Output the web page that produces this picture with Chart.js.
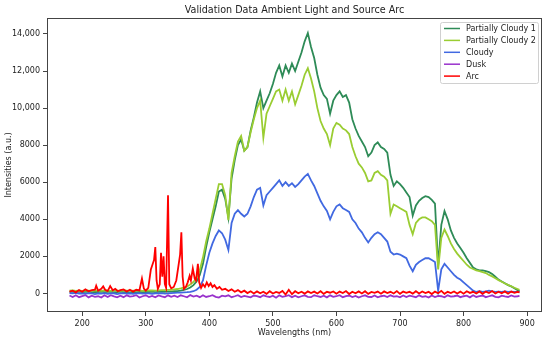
<!DOCTYPE html>
<html>
<head>
<meta charset="utf-8">
<script src="https://cdn.jsdelivr.net/npm/chart.js@4.4.1/dist/chart.umd.min.js"></script>
<style>
  body { margin: 0; background: #fff; }
  .container { width: 550px; height: 341px; position: relative; }
</style>
</head>
<body>
<div class="container"><canvas id="myChart"></canvas></div>
<script>
const chartTitle = 'Validation Data Ambient Light and Source Arc';
const seriesLabels = ['Partially Cloudy 1', 'Partially Cloudy 2', 'Cloudy', 'Dusk', 'Arc'];
const seriesColors = ['#2e8b57', '#9acd32', '#4169e1', '#9932cc', '#ff0000'];

const xTicks = [200, 300, 400, 500, 600, 700, 800, 900];
const yTicks = [0, 2000, 4000, 6000, 8000, 10000, 12000, 14000];

// ambient spectra share one wavelength grid (nm)
const wavelengths = [
  180, 185, 190, 195, 200, 205, 210, 215, 220, 225, 230, 235, 240, 245, 250, 255, 260, 265, 270, 275,
  280, 285, 290, 295, 300, 305, 310, 315, 320, 325, 330, 335, 340, 345, 350, 355, 360, 365, 370, 375,
  380, 385, 390, 395, 400, 405, 410, 415, 420, 425, 430, 435, 440, 445, 450, 455, 460, 465, 470, 475,
  480, 485, 490, 495, 500, 505, 510, 515, 520, 525, 530, 535, 540, 545, 550, 555, 560, 565, 570, 575,
  580, 585, 590, 595, 600, 605, 610, 615, 620, 625, 630, 635, 640, 645, 650, 655, 660, 665, 670, 675,
  680, 685, 690, 695, 700, 705, 710, 715, 720, 725, 730, 735, 740, 745, 750, 755, 760, 765, 770, 775,
  780, 785, 790, 795, 800, 805, 810, 815, 820, 825, 830, 835, 840, 845, 850, 855, 860, 865, 870, 875,
  880, 885, 888
];

const partlyCloudy1 = [
  90, 100, 80, 95, 70, 85, 100, 75, 90, 80, 95, 70, 85, 90, 75, 80, 95, 70, 85, 60,
  80, 75, 90, 70, 85, 80, 95, 75, 90, 100, 85, 110, 95, 120, 130, 150, 190, 240, 320, 450,
  650, 1000, 1600, 2500, 3300, 4000, 4700, 5500, 5600, 5100, 4100, 6200, 7200, 8000, 8300, 7700, 7900, 8800, 9500, 10300,
  10900, 10000, 10400, 10800, 11300, 11900, 12300, 11700, 12300, 11900, 12400, 12000, 12500, 13000, 13600, 14050, 13300, 12700, 11800, 11100,
  10700, 10500, 9700, 10400, 10700, 10900, 10600, 10700, 10300, 9400, 8900, 8500, 8200, 7900, 7400, 7600, 8000, 8150, 7900, 7800,
  7600, 6400, 5800, 6050, 5900, 5700, 5450, 5200, 4200, 4750, 5000, 5150, 5250, 5200, 5050, 4850, 1500, 3700, 4450, 4000,
  3400, 3000, 2700, 2450, 2200, 1900, 1650, 1400, 1300, 1250, 1250, 1200, 1150, 1050, 900, 750, 650, 550, 450, 380,
  280, 180, 130
];

const partlyCloudy2 = [
  150, 160, 140, 155, 145, 160, 150, 140, 165, 150, 145, 160, 150, 140, 155, 150, 145, 160, 150, 140,
  155, 150, 160, 145, 150, 160, 170, 155, 165, 175, 180, 190, 200, 220, 240, 270, 310, 380, 480, 620,
  850, 1250, 1950, 2800, 3500, 4300, 5100, 5900, 5900, 5300, 3950, 6500, 7400, 8200, 8500, 7700, 7900, 8700, 9400, 10000,
  10400, 8400, 9700, 10100, 10500, 10900, 11000, 10400, 11000, 10400, 10900, 10200, 10700, 11200, 11800, 12150, 11600, 10900, 10000, 9300,
  8900, 8600, 8000, 8900, 9200, 9100, 8900, 8800, 8600, 7900, 7400, 7000, 6800, 6500, 6050, 6100, 6500, 6600, 6400, 6300,
  6100, 4300, 4800, 4700, 4600, 4500, 4400, 3700, 3200, 3800, 4000, 4100, 4100, 4000, 3900, 3700, 1300, 3000, 3450, 3100,
  2700, 2400, 2150, 1950, 1750, 1550, 1400, 1320, 1250, 1200, 1150, 1100, 1000, 920, 820, 720, 630, 540, 460, 390,
  310, 240, 200
];

const cloudy = [
  20, 0, 30, -10, 10, -20, 20, 0, -30, 10, -10, 20, -20, 0, 10, -30, 0, 20, -10, 10,
  -20, 0, 20, -10, 0, 10, -20, 10, 0, 20, -10, 10, 20, 30, 40, 50, 60, 70, 90, 120,
  200, 350, 700, 1500, 2200, 2700, 3100, 3400, 3250, 2900, 2350, 3800, 4300, 4500, 4300, 4150, 4300, 4700, 5200, 5600,
  5700, 4750, 5300, 5500, 5700, 5900, 6100, 5800, 6000, 5800, 5950, 5750, 5900, 6100, 6300, 6450, 6100, 5800, 5400, 5000,
  4700, 4450, 4000, 4400, 4700, 4800, 4600, 4500, 4400, 4000, 3800, 3500, 3300, 3000, 2750, 3000, 3200, 3300, 3200, 3000,
  2800, 2250, 2100, 2150, 2100, 2000, 1900, 1500, 1200, 1550, 1700, 1800, 1900, 1900, 1800, 1700, 150, 1300, 1600, 1400,
  1200, 1000, 850, 750, 600, 450, 300, 150, 80, 120, 90, 110, 150, 110, 90, 100, 80, 110, 90, 100,
  80, 90, 80
];

const dusk = [
  -110, -190, -100, -200, -140, -90, -210, -120, -180, -150, -220, -100, -190, -90, -160, -210, -120, -200, -100, -170,
  -140, -90, -220, -150, -100, -190, -130, -210, -110, -160, -200, -100, -180, -120, -190, -100, -150, -210, -90, -170,
  -120, -200, -100, -190, -150, -90, -180, -220, -120, -160, -100, -200, -150, -90, -190, -130, -170, -210, -110, -150,
  -200, -100, -160, -190, -120, -230, -100, -180, -150, -90, -200, -120, -210, -150, -100, -180, -200, -100, -150, -190,
  -120, -210, -100, -180, -150, -90, -200, -150, -110, -190, -130, -220, -150, -100, -180, -190, -110, -210, -150, -120,
  -190, -100, -170, -150, -210, -110, -190, -120, -160, -200, -100, -180, -150, -220, -110, -190, -130, -150, -210, -100,
  -170, -150, -110, -200, -150, -120, -210, -100, -190, -150, -110, -200, -150, -100, -180, -210, -120, -160, -190, -110,
  -170, -150, -130
];

// arc lamp has its own, finer grid around the emission lines
const arcWavelengths = [
  180, 185, 190, 195, 200, 205, 210, 215, 220, 222, 225, 230, 233, 236, 240, 244, 248, 252, 256, 260,
  265, 270, 275, 280, 285, 290, 294, 297, 300, 304, 308, 311, 313, 315, 317, 319, 322, 324, 326, 328,
  330, 332, 335, 337, 340, 344, 348, 351, 354, 356, 358, 360, 363, 366, 369, 371, 374, 377, 379, 382,
  384, 387, 390, 393, 396, 399, 402, 405, 408, 412, 416, 420, 425, 430, 435, 440, 445, 450, 455, 460,
  465, 470, 475, 480, 485, 490, 495, 500, 505, 510, 515, 520, 525, 530, 535, 540, 545, 550, 555, 560,
  565, 570, 575, 580, 585, 590, 595, 600, 605, 610, 615, 620, 625, 630, 635, 640, 645, 650, 655, 660,
  665, 670, 675, 680, 685, 690, 695, 700, 705, 710, 715, 720, 725, 730, 735, 740, 745, 750, 755, 760,
  765, 770, 775, 780, 785, 790, 795, 800, 805, 810, 815, 820, 825, 830, 835, 840, 845, 850, 855, 860,
  865, 870, 875, 880, 885, 888
];

const arc = [
  100, 150, 60, 180, 90, 220, 120, 180, 200, 420, 150, 250, 380, 200, 130, 400, 170, 250, 120, 180,
  220, 110, 200, 100, 200, 160, 800, 260, 150, 300, 1300, 1600, 1800, 2500, 700, 250, 500, 2200, 900, 2000,
  500, 300, 5300, 500, 280, 350, 700, 1400, 2100, 3300, 900, 250, 350, 600, 950, 700, 1350, 800, 700, 1600,
  600, 300, 500, 350, 600, 400, 550, 350, 450, 250, 350, 200, 250, 130, 220, 90, 180, 60, 150, 20,
  120, 0, 110, 10, 90, -20, 120, 0, 80, 30, 140, -60, 200, -40, 120, 10, 90, -10, 110, 20,
  100, 0, 120, -20, 90, 40, 110, -10, 100, 20, 130, -30, 90, 10, 110, 0, 120, -20, 80, 30,
  100, -10, 110, 20, 90, 0, 130, -20, 100, 30, 90, -10, 120, 0, 110, 20, 90, -30, 100, 10,
  140, -20, 90, 20, 110, 0, 100, -10, 120, 30, 90, 0, 110, -20, 100, 20, 130, 0, 90, 10,
  110, -10, 100, 30, 90, 60
];

function toPoints(xs, ys) {
  return xs.map((x, i) => ({ x, y: ys[i] }));
}

const seriesPoints = [
  toPoints(wavelengths, partlyCloudy1),
  toPoints(wavelengths, partlyCloudy2),
  toPoints(wavelengths, cloudy),
  toPoints(wavelengths, dusk),
  toPoints(arcWavelengths, arc),
];
const seriesWidths = [1.8, 1.8, 1.8, 1.8, 1.8];

const FONT = "'DejaVu Sans', sans-serif";
Chart.defaults.font.family = FONT;
Chart.defaults.color = '#222';

// title, frame and an inside legend, matplotlib style
const decorations = {
  id: 'decorations',
  afterDraw(chart) {
    const { ctx, chartArea: a } = chart;
    ctx.save();
    ctx.strokeStyle = '#444';
    ctx.lineWidth = 1;
    ctx.strokeRect(Math.round(a.left) + 0.5, Math.round(a.top) + 0.5,
      Math.round(a.right - a.left) - 1, Math.round(a.bottom - a.top) - 1);

    ctx.fillStyle = '#222';
    ctx.font = '9.6px ' + FONT;
    ctx.textAlign = 'center';
    ctx.textBaseline = 'middle';
    ctx.fillText(chartTitle, (a.left + a.right) / 2, 10);

    const bx = 440.5, by = 22.5, bw = 98, bh = 61;
    ctx.fillStyle = 'rgba(255,255,255,0.8)';
    ctx.strokeStyle = '#d0d0d0';
    ctx.beginPath();
    ctx.roundRect(bx, by, bw, bh, 2);
    ctx.fill();
    ctx.stroke();

    ctx.font = '8px ' + FONT;
    ctx.textAlign = 'left';
    chart.data.datasets.forEach((ds, i) => {
      const y = 28.5 + i * 11.9;
      ctx.strokeStyle = ds.borderColor;
      ctx.lineWidth = 1.5;
      ctx.beginPath();
      ctx.moveTo(444, y);
      ctx.lineTo(460, y);
      ctx.stroke();
      ctx.fillStyle = '#222';
      ctx.fillText(ds.label, 466, y + 0.5);
    });
    ctx.restore();
  },
};

const ctx = document.getElementById('myChart').getContext('2d');
const chart = new Chart(ctx, {
  type: 'line',
  data: {
    datasets: seriesLabels.map((label, i) => ({
      label,
      data: seriesPoints[i],
      borderColor: seriesColors[i],
      backgroundColor: seriesColors[i],
      borderWidth: seriesWidths[i],
      pointRadius: 0,
      tension: 0,
      order: seriesLabels.length - i,
    })),
  },
  options: {
    responsive: true,
    maintainAspectRatio: false,
    animation: false,
    layout: { padding: { top: 18, right: 8, left: 0, bottom: 0 } },
    plugins: {
      legend: { display: false },
      title: { display: false },
      tooltip: { enabled: false },
    },
    scales: {
      x: {
        type: 'linear',
        min: 144.6,
        max: 923.4,
        afterFit(scale) { scale.height = 29; },
        afterBuildTicks(scale) { scale.ticks = xTicks.map((v) => ({ value: v })); },
        border: { display: false },
        grid: { drawOnChartArea: false, drawTicks: true, tickLength: 4, tickColor: '#444' },
        ticks: { font: { size: 8 }, padding: 3, maxRotation: 0, color: '#222' },
        title: { display: true, text: 'Wavelengths (nm)', font: { size: 8 }, padding: { top: 0, bottom: 3 }, color: '#222' },
      },
      y: {
        min: -1000,
        max: 14860,
        afterFit(scale) { scale.width = 47; },
        afterBuildTicks(scale) { scale.ticks = yTicks.map((v) => ({ value: v })); },
        border: { display: false },
        grid: { drawOnChartArea: false, drawTicks: true, tickLength: 4, tickColor: '#444' },
        ticks: {
          font: { size: 8 },
          padding: 3,
          color: '#222',
          callback: (v) => (v >= 10000 ? v.toLocaleString('en-US') : String(v)),
        },
        title: { display: true, text: 'Intensities (a.u.)', font: { size: 8 }, padding: { top: 4, bottom: 0 }, color: '#222' },
      },
    },
  },
  plugins: [decorations],
});
</script>
</body>
</html>
